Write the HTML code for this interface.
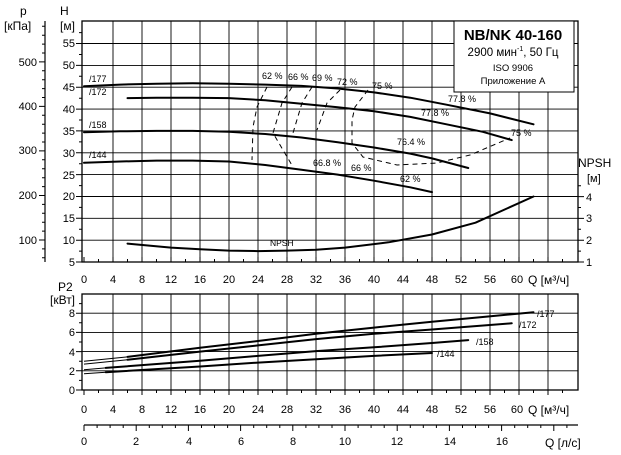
<!DOCTYPE html>
<html><head><meta charset="utf-8"><style>
html,body{margin:0;padding:0;background:#fff;}
svg{display:block;font-family:"Liberation Sans",sans-serif;}
</style></head><body>
<svg width="621" height="455" viewBox="0 0 621 455" xmlns="http://www.w3.org/2000/svg">
<g stroke="#000" fill="none">
<!-- top grid -->
<path stroke-width="0.9" d="M113,21V262M142,21V262M171,21V262M200,21V262M229,21V262M258,21V262M287,21V262M316,21V262M345,21V262M374,21V262M403,21V262M432,21V262M461,21V262M490,21V262M519,21V262M548,21V262
M82,240.2H578M82,218.3H578M82,196.5H578M82,174.6H578M82,152.8H578M82,130.9H578M82,109.1H578M82,87.2H578M82,65.4H578M82,43.5H578"/>
<rect x="82" y="21" width="496" height="241" stroke-width="1.3"/>
<!-- top x ticks -->
<path stroke-width="1" d="M84,262v-5M98.5,262v-3M113,262v-5M127.5,262v-3M142,262v-5M156.5,262v-3M171,262v-5M185.5,262v-3M200,262v-5M214.5,262v-3M229,262v-5M243.5,262v-3M258,262v-5M272.5,262v-3M287,262v-5M301.5,262v-3M316,262v-5M330.5,262v-3M345,262v-5M359.5,262v-3M374,262v-5M388.5,262v-3M403,262v-5M417.5,262v-3M432,262v-5M446.5,262v-3M461,262v-5M475.5,262v-3M490,262v-5M504.5,262v-3M519,262v-5M533.5,262v-3M548,262v-5M562.5,262v-3"/>
<!-- H ticks -->
<path stroke-width="1" d="M76,262h6M79,251.1h3M76,240.2h6M79,229.2h3M76,218.3h6M79,207.4h3M76,196.5h6M79,185.6h3M76,174.6h6M79,163.7h3M76,152.8h6M79,141.9h3M76,130.9h6M79,120h3M76,109.1h6M79,98.2h3M76,87.2h6M79,76.3h3M76,65.4h6M79,54.5h3M76,43.5h6M79,32.6h3"/>
<!-- p axis -->
<path stroke-width="1.2" d="M45,21V262"/>
<path stroke-width="1" d="M42,257.8h3M42,248.9h3M39,240h6M42,231.1h3M42,222.2h3M42,213.3h3M42,204.4h3M39,195.5h6M42,186.6h3M42,177.7h3M42,168.7h3M42,159.8h3M39,150.9h6M42,142h3M42,133.1h3M42,124.2h3M42,115.3h3M39,106.4h6M42,97.5h3M42,88.6h3M42,79.7h3M42,70.8h3M39,61.9h6M42,53h3M42,44.1h3M42,35.2h3M42,26.3h3"/>
<!-- NPSH ticks -->
<path stroke-width="1" d="M578,262h6M578,251.1h3M578,240.2h6M578,229.3h3M578,218.4h6M578,207.5h3M578,196.6h6M578,185.7h3"/>
<!-- bottom grid -->
<path stroke-width="0.9" d="M113,294V390M142,294V390M171,294V390M200,294V390M229,294V390M258,294V390M287,294V390M316,294V390M345,294V390M374,294V390M403,294V390M432,294V390M461,294V390M490,294V390M519,294V390M548,294V390
M82,370.8H578M82,351.6H578M82,332.4H578M82,313.2H578"/>
<rect x="82" y="294" width="496" height="96" stroke-width="1.3"/>
<path stroke-width="1" d="M84,390v5M98.5,390v3M113,390v5M127.5,390v3M142,390v5M156.5,390v3M171,390v5M185.5,390v3M200,390v5M214.5,390v3M229,390v5M243.5,390v3M258,390v5M272.5,390v3M287,390v5M301.5,390v3M316,390v5M330.5,390v3M345,390v5M359.5,390v3M374,390v5M388.5,390v3M403,390v5M417.5,390v3M432,390v5M446.5,390v3M461,390v5M475.5,390v3M490,390v5M504.5,390v3M519,390v5M533.5,390v3M548,390v5M562.5,390v3
M76,390h6M79,380.4h3M76,370.8h6M79,361.2h3M76,351.6h6M79,342h3M76,332.4h6M79,322.8h3M76,313.2h6M79,303.6h3"/>
<!-- l/s axis -->
<path stroke-width="1.2" d="M84,425H578"/>
<path stroke-width="1" d="M84,425v6M97.1,425v3M110.1,425v3M123.2,425v3M136.2,425v6M149.3,425v3M162.3,425v3M175.4,425v3M188.4,425v6M201.5,425v3M214.5,425v3M227.6,425v3M240.6,425v6M253.7,425v3M266.7,425v3M279.8,425v3M292.8,425v6M305.9,425v3M318.9,425v3M332,425v3M345,425v6M358.1,425v3M371.1,425v3M384.2,425v3M397.2,425v6M410.3,425v3M423.3,425v3M436.4,425v3M449.4,425v6M462.5,425v3M475.5,425v3M488.6,425v3M501.6,425v6M514.7,425v3M527.7,425v3M540.8,425v3M553.8,425v6M566.9,425v3"/>
<!-- H curves -->
<g stroke-width="2" stroke-linejoin="round" stroke-linecap="round">
<polyline points="84,86.3 120.25,84.6 156.5,83.7 192.75,83.3 229,83.7 265.25,84.6 301.5,85.9 337.75,88.5 374,92.4 410.25,97.7 446.5,104.7 490,113.4 533.5,124.3"/>
<polyline points="127.5,98.1 156.5,97.7 192.75,97.7 229,98.1 265.25,100.3 301.5,103.8 337.75,107.3 374,111.2 410.25,116.9 446.5,124.3 482.75,131.8 511.75,140.1"/>
<polyline points="84,132.2 120.25,131.3 156.5,130.9 192.75,130.9 229,131.8 265.25,134 301.5,137.5 337.75,142.3 374,147.5 410.25,153.6 432,158.4 468.25,168"/>
<polyline points="84,162.8 120.25,161.5 156.5,160.6 192.75,160.6 229,161.5 265.25,165 301.5,169.8 337.75,174.6 374,180.7 410.25,187.3 432,192.1"/>
<polyline points="127.5,243.6 171,247.6 200,249.3 229,250.6 258,251.1 287,250.6 316,249.8 345,247.6 388.5,242.3 432,234.5 475.5,222.7 533.5,196.5"/>
<!-- P2 -->
<polyline points="127.5,356.9 200,347.8 258,341 316,333.8 374,327.6 432,321.8 482.75,317 533.5,312.2"/>
<polyline points="127.5,359.8 200,351.6 258,345.4 316,339.1 374,333.8 432,329.5 511.75,323.3"/>
<polyline points="105.75,367.9 200,360.7 258,355.9 316,351.1 374,347.3 432,343 468.25,340.1"/>
<polyline points="105.75,372.2 200,366.5 258,362.6 316,359.3 374,355.9 432,353"/>
</g>
<path stroke-width="1" d="M84,361.2L127.5,356.9M84,364.1L127.5,359.8M84,369.8L105.75,367.9M84,373.7L105.75,372.2"/>
<!-- efficiency dashed -->
<g stroke-width="1" stroke-dasharray="5,4">
<polyline points="267,87 257,107 253,127 252,160"/>
<polyline points="292,87 282,103 273,133 283,150 293,167"/>
<polyline points="312,87 302,103 293,133"/>
<polyline points="340,90 327,103 317,130"/>
<polyline points="368,90 355,107 352,120 352,143 363,157 397,165 437,163 470,155 510,138"/>
</g>
</g>
<!-- legend box -->
<rect x="454" y="21" width="120" height="71" fill="#fff" stroke="#000" stroke-width="1"/>
<g fill="#000">
<text x="513" y="40" font-size="15" font-weight="bold" text-anchor="middle">NB/NK 40-160</text>
<text x="513" y="56" font-size="11.5" text-anchor="middle">2900 мин<tspan font-size="7" dy="-5">-1</tspan><tspan dy="5">, 50 Гц</tspan></text>
<text x="513" y="71" font-size="9.5" text-anchor="middle">ISO 9906</text>
<text x="513" y="84" font-size="9.5" text-anchor="middle">Приложение А</text>
<text x="20" y="15" font-size="12">p</text>
<text x="4" y="30" font-size="12">[кПа]</text>
<text x="60" y="15" font-size="12">H</text>
<text x="60" y="30" font-size="12">[м]</text>
<g font-size="11" text-anchor="end">
<text x="37" y="66">500</text><text x="37" y="110">400</text><text x="37" y="154">300</text><text x="37" y="199">200</text><text x="37" y="244">100</text>
<text x="75" y="47">55</text><text x="75" y="69">50</text><text x="75" y="91">45</text><text x="75" y="113">40</text><text x="75" y="135">35</text><text x="75" y="157">30</text><text x="75" y="179">25</text><text x="75" y="200">20</text><text x="75" y="222">15</text><text x="75" y="244">10</text><text x="75" y="266">5</text>
</g>
<text x="578" y="167" font-size="12">NPSH</text>
<text x="587" y="182" font-size="11">[м]</text>
<g font-size="11"><text x="586" y="201">4</text><text x="586" y="222">3</text><text x="586" y="244">2</text><text x="586" y="266">1</text></g>
<g font-size="11" text-anchor="middle">
<text x="84" y="283">0</text><text x="113" y="283">4</text><text x="142" y="283">8</text><text x="171" y="283">12</text><text x="200" y="283">16</text><text x="229" y="283">20</text><text x="258" y="283">24</text><text x="287" y="283">28</text><text x="316" y="283">32</text><text x="345" y="283">36</text><text x="374" y="283">40</text><text x="403" y="283">44</text><text x="432" y="283">48</text><text x="461" y="283">52</text><text x="490" y="283">56</text><text x="517" y="283">60</text>
<text x="84" y="413">0</text><text x="113" y="413">4</text><text x="142" y="413">8</text><text x="171" y="413">12</text><text x="200" y="413">16</text><text x="229" y="413">20</text><text x="258" y="413">24</text><text x="287" y="413">28</text><text x="316" y="413">32</text><text x="345" y="413">36</text><text x="374" y="413">40</text><text x="403" y="413">44</text><text x="432" y="413">48</text><text x="461" y="413">52</text><text x="490" y="413">56</text><text x="517" y="413">60</text>
<text x="84" y="445">0</text><text x="136" y="445">2</text><text x="189" y="445">4</text><text x="241" y="445">6</text><text x="293" y="445">8</text><text x="345" y="445">10</text><text x="397" y="445">12</text><text x="450" y="445">14</text><text x="502" y="445">16</text>
</g>
<text x="528" y="284" font-size="12">Q [м³/ч]</text>
<text x="528" y="414" font-size="12">Q [м³/ч]</text>
<text x="545" y="447" font-size="12">Q [л/с]</text>
<text x="58" y="291" font-size="12">P2</text>
<text x="50" y="304" font-size="12">[кВт]</text>
<g font-size="11" text-anchor="end"><text x="75" y="317">8</text><text x="75" y="336">6</text><text x="75" y="356">4</text><text x="75" y="375">2</text><text x="75" y="394">0</text></g>
<g font-size="9">
<text x="89" y="82">/177</text><text x="89" y="95">/172</text><text x="89" y="128">/158</text><text x="89" y="158">/144</text>
<text x="262" y="79">62 %</text><text x="288" y="80">66 %</text><text x="312" y="81">69 %</text><text x="337" y="85">72 %</text><text x="372" y="89">75 %</text>
<text x="448" y="102">77.8 %</text><text x="421" y="116">77.8 %</text><text x="511" y="136">75 %</text><text x="397" y="145">76.4 %</text>
<text x="313" y="166">66.8 %</text><text x="351" y="171">66 %</text><text x="400" y="182">62 %</text>
<text x="270" y="246" font-size="8.5">NPSH</text>
<text x="537" y="317">/177</text><text x="519" y="328">/172</text><text x="476" y="345">/158</text><text x="437" y="357">/144</text>
</g>
</g>
</svg>
</body></html>
